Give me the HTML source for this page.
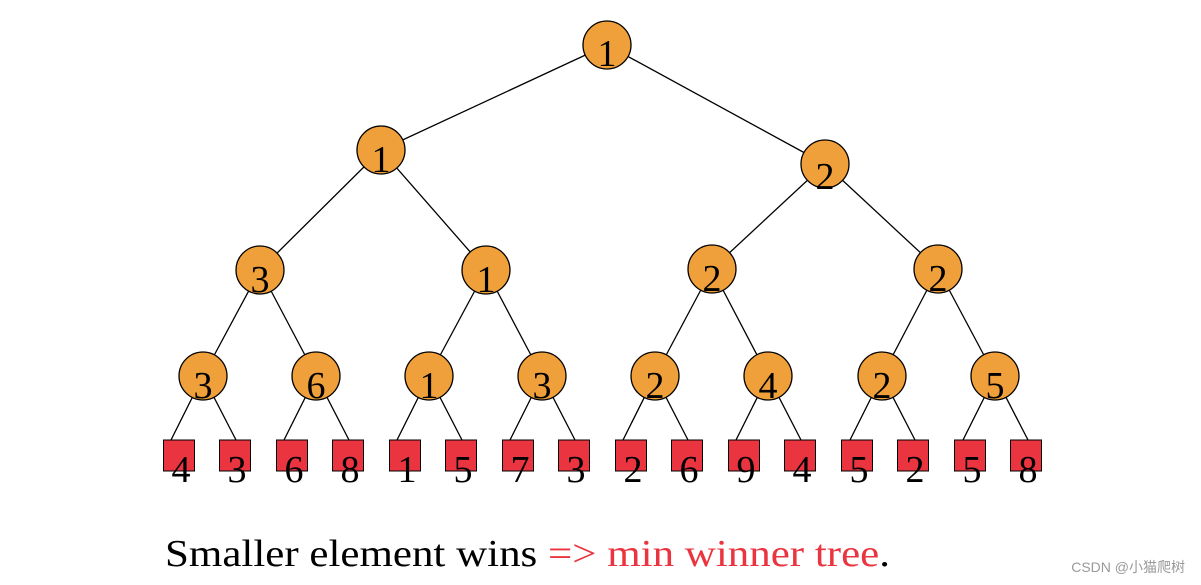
<!DOCTYPE html>
<html><head><meta charset="utf-8"><style>
html,body{margin:0;padding:0;background:#fff;}
svg{display:block}
</style></head><body>
<svg width="1201" height="585" xmlns="http://www.w3.org/2000/svg">
<g stroke="#000" stroke-width="1.3">
<line x1="607" y1="45" x2="381" y2="150"/>
<line x1="607" y1="45" x2="825" y2="164"/>
<line x1="381" y1="150" x2="260" y2="270"/>
<line x1="381" y1="150" x2="486" y2="270"/>
<line x1="825" y1="164" x2="712" y2="269"/>
<line x1="825" y1="164" x2="938" y2="269"/>
<line x1="260" y1="270" x2="203" y2="376"/>
<line x1="260" y1="270" x2="316" y2="376"/>
<line x1="486" y1="270" x2="429" y2="376"/>
<line x1="486" y1="270" x2="542" y2="376"/>
<line x1="712" y1="269" x2="655" y2="376"/>
<line x1="712" y1="269" x2="768" y2="376"/>
<line x1="938" y1="269" x2="882" y2="376"/>
<line x1="938" y1="269" x2="995" y2="376"/>
<line x1="203" y1="376" x2="171" y2="440"/><line x1="203" y1="376" x2="236" y2="440"/>
<line x1="316" y1="376" x2="284" y2="440"/><line x1="316" y1="376" x2="349" y2="440"/>
<line x1="429" y1="376" x2="397" y2="440"/><line x1="429" y1="376" x2="462" y2="440"/>
<line x1="542" y1="376" x2="510" y2="440"/><line x1="542" y1="376" x2="575" y2="440"/>
<line x1="655" y1="376" x2="623" y2="440"/><line x1="655" y1="376" x2="688" y2="440"/>
<line x1="768" y1="376" x2="736" y2="440"/><line x1="768" y1="376" x2="801" y2="440"/>
<line x1="882" y1="376" x2="850" y2="440"/><line x1="882" y1="376" x2="915" y2="440"/>
<line x1="995" y1="376" x2="963" y2="440"/><line x1="995" y1="376" x2="1028" y2="440"/>
</g>
<g fill="#f0a03a" stroke="#000" stroke-width="1.3">
<circle cx="607" cy="45" r="24"/>
<circle cx="381" cy="150" r="24"/><circle cx="825" cy="164" r="24"/>
<circle cx="260" cy="270" r="24"/><circle cx="486" cy="270" r="24"/><circle cx="712" cy="269" r="24"/><circle cx="938" cy="269" r="24"/>
<circle cx="203" cy="376" r="24"/><circle cx="316" cy="376" r="24"/><circle cx="429" cy="376" r="24"/><circle cx="542" cy="376" r="24"/>
<circle cx="655" cy="376" r="24"/><circle cx="768" cy="376" r="24"/><circle cx="882" cy="376" r="24"/><circle cx="995" cy="376" r="24"/>
</g>
<g fill="#ea3540" stroke="#000" stroke-width="1">
<rect x="163.5" y="440" width="31" height="31"/><rect x="219.5" y="440" width="31" height="31"/>
<rect x="276.5" y="440" width="31" height="31"/><rect x="332.5" y="440" width="31" height="31"/>
<rect x="389.5" y="440" width="31" height="31"/><rect x="445.5" y="440" width="31" height="31"/>
<rect x="502.5" y="440" width="31" height="31"/><rect x="558.5" y="440" width="31" height="31"/>
<rect x="615.5" y="440" width="31" height="31"/><rect x="671.5" y="440" width="31" height="31"/>
<rect x="728.5" y="440" width="31" height="31"/><rect x="784.5" y="440" width="31" height="31"/>
<rect x="841.5" y="440" width="31" height="31"/><rect x="897.5" y="440" width="31" height="31"/>
<rect x="954.5" y="440" width="31" height="31"/><rect x="1010.5" y="440" width="31" height="31"/>
</g>
<g font-family="Liberation Serif, serif" font-size="38" text-anchor="middle" fill="#000">
<text x="607" y="66">1</text>
<text x="381" y="172">1</text><text x="825" y="189">2</text>
<text x="260" y="292">3</text><text x="486" y="292">1</text><text x="712" y="291">2</text><text x="938" y="291">2</text>
<text x="203" y="398">3</text><text x="316" y="398">6</text><text x="429" y="398">1</text><text x="542" y="398">3</text>
<text x="655" y="398">2</text><text x="768" y="398">4</text><text x="882" y="398">2</text><text x="995" y="398">5</text>
<g>
<text x="181" y="482">4</text><text x="237" y="482">3</text><text x="294" y="482">6</text><text x="350" y="482">8</text>
<text x="407" y="482">1</text><text x="463" y="482">5</text><text x="520" y="482">7</text><text x="576" y="482">3</text>
<text x="633" y="482">2</text><text x="689" y="482">6</text><text x="746" y="482">9</text><text x="802" y="482">4</text>
<text x="859" y="482">5</text><text x="915" y="482">2</text><text x="972" y="482">5</text><text x="1028" y="482">8</text>
</g>
</g>
<text x="165" y="566" font-family="Liberation Serif, serif" font-size="38" textLength="725" lengthAdjust="spacingAndGlyphs">Smaller element wins <tspan fill="#ea3540">=&gt; min winner tree</tspan>.</text>
<text x="1185" y="572" text-anchor="end" font-family="Liberation Sans, Noto Sans CJK SC, sans-serif" font-size="14" fill="#999">CSDN @小猫爬树</text>
</svg>
</body></html>
